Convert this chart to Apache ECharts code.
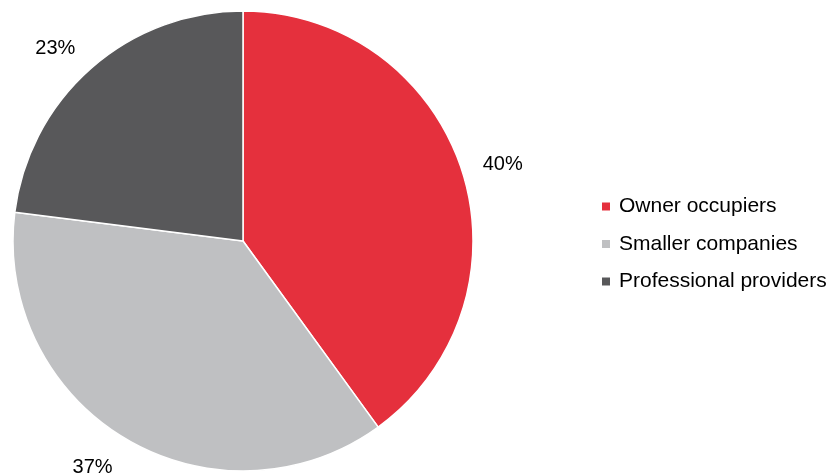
<!DOCTYPE html>
<html>
<head>
<meta charset="utf-8">
<script src="https://cdn.jsdelivr.net/npm/echarts@6/dist/echarts.min.js"></script>
<style>
  html, body { margin: 0; padding: 0; background: #fff; }
  #chart { width: 838px; height: 475px; }
</style>
</head>
<body>
<div id="chart"></div>
<script>
const categories = ["Owner occupiers", "Smaller companies", "Professional providers"];
const values = [40, 37, 23];
const colors = ["#E5303D", "#BFC0C2", "#58585A"];
const labelLengths = [22, 30, 28];
// small nudges of the outside labels
const labelShift = [[-5, 1], [7, 3], [8, 1]];

const chart = echarts.init(document.getElementById("chart"));

const option = {
  animation: false,
  textStyle: { fontFamily: "Liberation Sans, Arial, sans-serif" },
  legend: {
    orient: "vertical",
    left: 595,
    top: 191,
    itemWidth: 10,
    itemHeight: 10,
    itemGap: 16.5,
    icon: "rect",
    textStyle: { fontSize: 21, color: "#000", padding: [0, 0, 0, 3] },
    data: categories,
  },
  series: [
    {
      type: "pie",
      center: [243, 241],
      radius: 230,
      startAngle: 90,
      clockwise: true,
      itemStyle: { borderColor: "#fff", borderWidth: 1.5 },
      label: {
        show: true,
        position: "outside",
        formatter: "{c}%",
        fontSize: 20,
        color: "#000",
      },
      labelLine: { show: false, length2: 0 },
      labelLayout: function (params) {
        const s = labelShift[params.dataIndex];
        return { dx: s[0], dy: s[1] };
      },
      data: categories.map((name, i) => ({
        name: name,
        value: values[i],
        itemStyle: { color: colors[i] },
        labelLine: { length: labelLengths[i] },
      })),
    },
  ],
};

chart.setOption(option);
</script>
</body>
</html>
